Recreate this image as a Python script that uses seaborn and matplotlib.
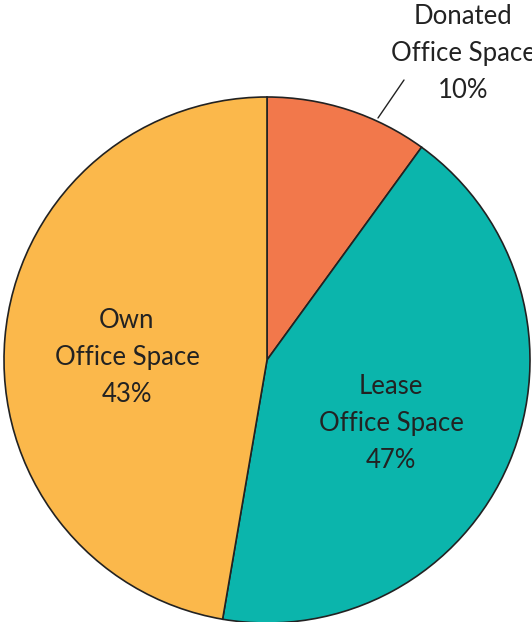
import matplotlib
matplotlib.use("Agg")
import matplotlib.pyplot as plt
import seaborn as sns

# Data
categories = ["Donated\nOffice Space", "Lease\nOffice Space", "Own\nOffice Space"]
wedge_shares = [10, 42.7, 47.3]      # share of the circle as drawn
printed_pct = ["10%", "47%", "43%"]  # percentages printed on the chart
colors = sns.color_palette(["#F2784B", "#0BB5AC", "#FBB84B"])

sns.set_theme(style="white")
plt.rcParams["font.family"] = ["Lato", "DejaVu Sans"]

fig = plt.figure(figsize=(5.32, 6.22), dpi=100)
ax = fig.add_axes([0, 0, 1, 1])

cx, cy, r = 267, 622 - 360, 263
ax.pie(wedge_shares, colors=colors, startangle=90, counterclock=False,
       center=(cx, cy), radius=r, frame=True,
       wedgeprops=dict(edgecolor="#222222", linewidth=1.2))
ax.set_xlim(0, 532)
ax.set_ylim(0, 622)
ax.set_aspect("equal")
ax.axis("off")

txt = dict(ha="center", va="center", fontsize=18.5, color="#222222",
           linespacing=1.6, fontweight="normal")
# label anchors (pixel positions in the reference)
label_pos = [(463, 622 - 53), (391, 622 - 424), (127, 622 - 358)]
for name, pct, (x, y) in zip(categories, printed_pct, label_pos):
    ax.text(x, y, f"{name}\n{pct}", **txt)

# leader line for the small slice
ax.plot([378, 404], [622 - 118, 622 - 80], color="#222222", lw=1)

fig.savefig("out.png", dpi=100)
